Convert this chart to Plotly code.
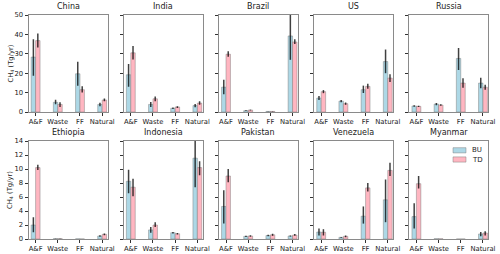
import plotly.graph_objects as go

categories = ["A&F", "Waste", "FF", "Natural"]
countries = ["China", "India", "Brazil", "US", "Russia",
             "Ethiopia", "Indonesia", "Pakistan", "Venezuela", "Myanmar"]
series_names = ["BU", "TD"]

bu_values = [
    [28.3, 5.0, 19.7, 3.9], [19.2, 3.9, 1.9, 3.3], [12.8, 0.7, 0.3, 39.2],
    [7.2, 5.6, 11.5, 26.0], [3.1, 4.1, 27.6, 14.9],
    [2.0, 0.05, 0.02, 0.43], [8.25, 1.3, 0.9, 11.55], [4.65, 0.38, 0.5, 0.43],
    [1.0, 0.24, 3.26, 5.6], [3.2, 0.05, 0.0, 0.72],
]
bu_low = [
    [18.7, 4.0, 13.5, 3.0], [13.0, 2.6, 1.5, 2.5], [9.2, 0.5, 0.2, 26.9],
    [6.2, 5.0, 9.8, 20.0], [2.7, 3.5, 21.7, 12.2],
    [0.95, 0.04, 0.02, 0.33], [6.55, 0.9, 0.8, 7.4], [2.2, 0.3, 0.4, 0.35],
    [0.5, 0.18, 2.2, 2.4], [1.5, 0.05, 0.0, 0.4],
]
bu_high = [
    [37.5, 6.3, 25.9, 4.8], [24.8, 5.2, 2.3, 4.1], [16.6, 0.9, 0.4, 52.0],
    [8.3, 6.2, 13.6, 32.2], [3.5, 4.7, 33.0, 17.6],
    [3.1, 0.06, 0.02, 0.55], [9.9, 1.7, 1.0, 14.5], [6.95, 0.46, 0.6, 0.5],
    [1.5, 0.3, 4.65, 8.5], [5.1, 0.05, 0.0, 1.0],
]
td_values = [
    [36.8, 3.9, 11.5, 6.2], [30.5, 6.8, 2.6, 4.6], [29.8, 1.0, 0.3, 36.1],
    [10.5, 4.3, 13.2, 17.5], [2.9, 3.6, 14.9, 12.8],
    [10.2, 0.05, 0.01, 0.67], [7.4, 2.0, 0.75, 10.2], [9.0, 0.43, 0.6, 0.57],
    [0.96, 0.38, 7.3, 9.8], [7.9, 0.03, 0.0, 0.86],
]
td_low = [
    [33.2, 2.6, 10.0, 5.5], [27.0, 5.6, 2.1, 3.8], [28.5, 0.8, 0.2, 35.0],
    [9.7, 3.7, 12.0, 15.5], [2.6, 3.2, 12.5, 11.5],
    [9.85, 0.04, 0.01, 0.55], [6.1, 1.7, 0.65, 9.1], [8.1, 0.33, 0.45, 0.45],
    [0.5, 0.25, 6.8, 9.0], [7.2, 0.03, 0.0, 0.5],
]
td_high = [
    [40.4, 5.0, 13.3, 7.0], [34.0, 8.0, 3.0, 5.5], [31.3, 1.2, 0.4, 37.5],
    [11.3, 4.9, 14.6, 19.5], [3.2, 4.0, 17.4, 14.1],
    [10.6, 0.06, 0.01, 0.8], [8.6, 2.4, 0.85, 11.1], [10.0, 0.53, 0.75, 0.7],
    [1.4, 0.5, 8.0, 10.9], [9.0, 0.03, 0.0, 1.1],
]
row_ymax = [50, 14]
row_ticks = [[0, 10, 20, 30, 40, 50], [0, 2, 4, 6, 8, 10, 12, 14]]

W, H = 500, 254
fig = go.Figure()
font = "DejaVu Sans"
spine = "#8a8a8a"
tick_size = 6.8
colors = ["rgba(173,216,230,1)", "rgba(255,182,193,1)"]
edge = "rgba(120,120,120,0.45)"

col_left = [28.5 + 95.2 * i for i in range(5)]
col_w = 79
row_px = [(15, 112), (141, 239)]

for k, name in enumerate(countries):
    r, c = divmod(k, 5)
    ax = k + 1
    xa = "x" if ax == 1 else f"x{ax}"
    ya = "y" if ax == 1 else f"y{ax}"
    for vals, lo, hi, color, label in [
        (bu_values[k], bu_low[k], bu_high[k], colors[0], series_names[0]),
        (td_values[k], td_low[k], td_high[k], colors[1], series_names[1]),
    ]:
        fig.add_trace(go.Bar(
            x=categories, y=vals, name=label, xaxis=xa, yaxis=ya,
            marker=dict(color=color, line=dict(color=edge, width=1)),
            error_y=dict(type="data", symmetric=False,
                         array=[h - v for h, v in zip(hi, vals)],
                         arrayminus=[v - l for v, l in zip(vals, lo)],
                         color="rgba(0,0,0,0.75)", thickness=1.5, width=0),
            showlegend=False,
        ))
    x0 = col_left[c] / W
    x1 = (col_left[c] + col_w) / W
    top, bot = row_px[r]
    y0 = 1 - bot / H
    y1 = 1 - top / H
    key = "xaxis" if ax == 1 else f"xaxis{ax}"
    ykey = "yaxis" if ax == 1 else f"yaxis{ax}"
    fig.layout[key] = dict(
        domain=[x0, x1], anchor=ya, type="category", range=[-0.32, 3.24],
        showline=True, mirror=True, linecolor=spine, linewidth=1,
        ticks="outside", ticklen=3, tickcolor="#333", showgrid=False,
        tickangle=0, automargin=False,
        tickfont=dict(size=tick_size, color="#222", family=font), fixedrange=True,
    )
    fig.layout[ykey] = dict(
        domain=[y0, y1], anchor=xa, range=[0, row_ymax[r]],
        tickvals=row_ticks[r], showticklabels=(c == 0), automargin=False,
        showline=True, mirror=True, linecolor=spine, linewidth=1,
        ticks="outside", ticklen=3, tickcolor="#333", showgrid=False, zeroline=False,
        tickfont=dict(size=tick_size, color="#222", family=font),
    )
    if c == 0:
        fig.add_annotation(
            x=10 / W, y=(y0 + y1) / 2, xref="paper", yref="paper",
            xanchor="center", yanchor="middle",
            text="CH<sub>4</sub> (Tg/yr)", textangle=-90, showarrow=False,
            font=dict(size=6.8, family=font, color="#222"),
        )
    fig.add_annotation(
        x=(x0 + x1) / 2, y=y1, xref="paper", yref="paper",
        xanchor="center", yanchor="bottom",
        yshift=2, text=name, showarrow=False,
        font=dict(size=8, family=font, color="#222"),
    )

# legend drawn inside the Myanmar panel
for i, (label, color) in enumerate(zip(series_names, colors)):
    yc = 150.3 + 9.2 * i
    fig.add_shape(type="rect", xref="paper", yref="paper",
                  x0=453 / W, x1=466 / W, y0=1 - (yc + 2.6) / H, y1=1 - (yc - 2.6) / H,
                  fillcolor=color, line=dict(color=edge, width=1))
    fig.add_annotation(x=470 / W, y=1 - yc / H, xref="paper", yref="paper",
                       xanchor="left", yanchor="middle", text=label, showarrow=False,
                       font=dict(size=7, family=font, color="#222"))

fig.update_layout(
    width=W, height=H, margin=dict(l=0, r=0, t=0, b=0, autoexpand=False),
    paper_bgcolor="white", plot_bgcolor="white",
    barmode="group", bargap=0.6, bargroupgap=0.0,
    font=dict(family=font), showlegend=False,
)
fig.write_html("out.html", post_script="document.body.style.margin='0px';",
               config={"displayModeBar": False})
